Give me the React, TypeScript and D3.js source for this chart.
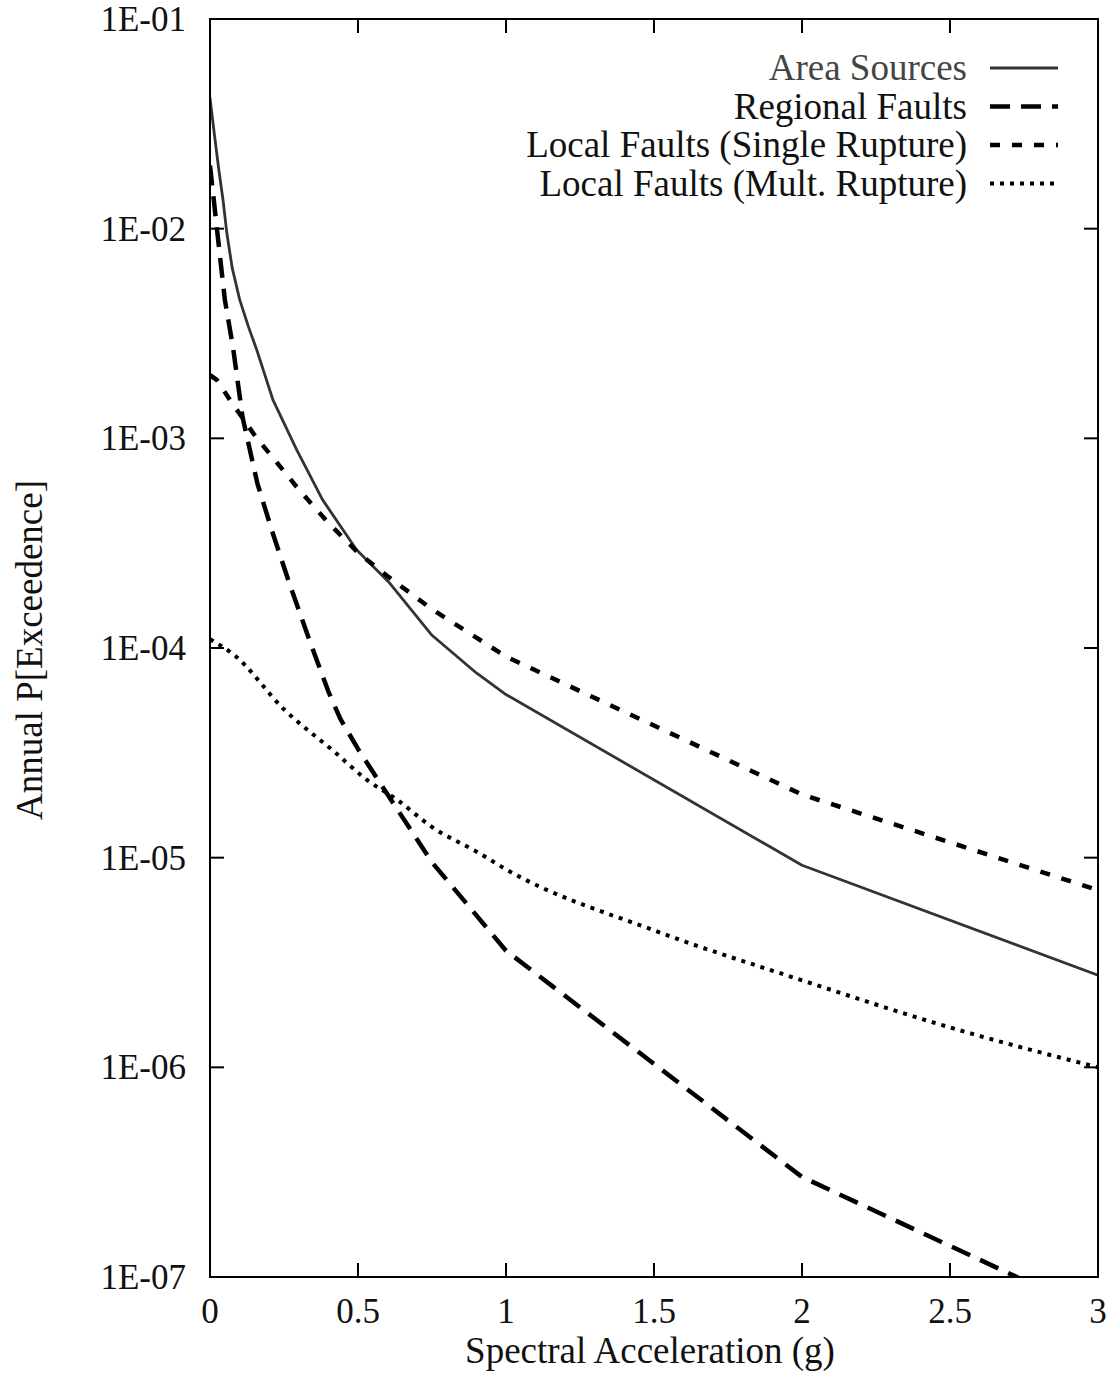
import React, { useEffect, useRef } from "react";
import * as d3 from "d3";

const xTicks = [0, 0.5, 1, 1.5, 2, 2.5, 3];
const yTicks = [1e-1, 1e-2, 1e-3, 1e-4, 1e-5, 1e-6, 1e-7];
const yTickLabels = ["1E-01", "1E-02", "1E-03", "1E-04", "1E-05", "1E-06", "1E-07"];

const areaX = [0, 0.015, 0.03, 0.044, 0.057, 0.075, 0.1, 0.13, 0.158, 0.213, 0.293, 0.38, 0.495, 0.607, 0.75, 0.9, 1.0, 2.0, 3.0];
const areaY = [4.2e-2, 2.8e-2, 1.9e-2, 1.37e-2, 9.5e-3, 6.5e-3, 4.6e-3, 3.4e-3, 2.64e-3, 1.52e-3, 8.8e-4, 5.1e-4, 2.94e-4, 2.04e-4, 1.15e-4, 7.6e-5, 6.0e-5, 9.2e-6, 2.75e-6];

const regionalX = [0, 0.035, 0.05, 0.078, 0.11, 0.16, 0.21, 0.27, 0.34, 0.4, 0.44, 0.5, 0.6, 0.75, 1.0, 2.0, 3.0];
const regionalY = [2.0e-2, 7.1e-3, 4.6e-3, 2.7e-3, 1.26e-3, 6.1e-4, 3.6e-4, 2.0e-4, 1.05e-4, 6.2e-5, 4.6e-5, 3.3e-5, 2.0e-5, 9.5e-6, 3.6e-6, 3.0e-7, 6.6e-8];

const singleX = [0, 0.023, 0.068, 0.1, 0.158, 0.2, 0.3, 0.4, 0.5, 0.6, 0.75, 1.0, 2.0, 3.0];
const singleY = [2.0e-3, 1.9e-3, 1.52e-3, 1.31e-3, 1.0e-3, 8.5e-4, 5.7e-4, 3.95e-4, 2.85e-4, 2.2e-4, 1.53e-4, 9.1e-5, 2.0e-5, 7.0e-6];

const multX = [0, 0.08, 0.25, 0.42, 0.53, 0.63, 0.75, 0.91, 1.0, 1.5, 2.0, 2.5, 3.0];
const multY = [1.1e-4, 9.3e-5, 5.1e-5, 3.2e-5, 2.35e-5, 1.9e-5, 1.4e-5, 1.05e-5, 8.8e-6, 4.5e-6, 2.6e-6, 1.55e-6, 1.0e-6];

const seriesNames = [
    "Area Sources",
    "Regional Faults",
    "Local Faults (Single Rupture)",
    "Local Faults (Mult. Rupture)",
];

export default function App() {
    const ref = useRef<SVGSVGElement>(null);

    useEffect(() => {
        const width = 1113;
        const height = 1377;
        const margin = { top: 19, right: 15, bottom: 100, left: 210 };
        const font = "'Liberation Serif', 'Times New Roman', serif";

        const svg = d3.select(ref.current);
        svg.selectAll("*").remove();

        const x = d3.scaleLinear().domain([0, 3]).range([margin.left, width - margin.right]);
        const y = d3.scaleLog().domain([1e-7, 1e-1]).range([height - margin.bottom, margin.top]);

        const series = [
            { name: seriesNames[0], xs: areaX, ys: areaY, dash: null, w: 2.8, color: "#333", curve: d3.curveLinear },
            { name: seriesNames[1], xs: regionalX, ys: regionalY, dash: "20,11", w: 4.5, color: "#000", curve: d3.curveLinear },
            { name: seriesNames[2], xs: singleX, ys: singleY, dash: "10,12", w: 4.5, color: "#000", curve: d3.curveLinear },
            { name: seriesNames[3], xs: multX, ys: multY, dash: "4,6", w: 4, color: "#000", curve: d3.curveMonotoneX },
        ];

        svg.append("defs")
            .append("clipPath")
            .attr("id", "plot-clip")
            .append("rect")
            .attr("x", margin.left)
            .attr("y", margin.top)
            .attr("width", width - margin.left - margin.right)
            .attr("height", height - margin.top - margin.bottom);

        const plot = svg.append("g").attr("clip-path", "url(#plot-clip)");
        series.forEach((s) => {
            const pts = s.xs.map((v, i) => [v, s.ys[i]] as [number, number]);
            const line = d3
                .line<[number, number]>()
                .x((d) => x(d[0]))
                .y((d) => y(d[1]))
                .curve(s.curve);
            plot.append("path")
                .datum(pts)
                .attr("d", line)
                .attr("fill", "none")
                .attr("stroke", s.color)
                .attr("stroke-width", s.w)
                .attr("stroke-linejoin", "round")
                .attr("stroke-dasharray", s.dash);
        });

        // frame
        const x0 = margin.left;
        const x1 = width - margin.right;
        const y0 = margin.top;
        const y1 = height - margin.bottom;
        svg.append("rect")
            .attr("x", x0)
            .attr("y", y0)
            .attr("width", x1 - x0)
            .attr("height", y1 - y0)
            .attr("fill", "none")
            .attr("stroke", "#000")
            .attr("stroke-width", 2);

        const tickLen = 14;
        const ticks = svg.append("g").attr("stroke", "#000").attr("stroke-width", 2);
        xTicks.forEach((t) => {
            ticks.append("line").attr("x1", x(t)).attr("x2", x(t)).attr("y1", y1).attr("y2", y1 - tickLen);
            ticks.append("line").attr("x1", x(t)).attr("x2", x(t)).attr("y1", y0).attr("y2", y0 + tickLen);
        });
        yTicks.forEach((t) => {
            ticks.append("line").attr("x1", x0).attr("x2", x0 + tickLen).attr("y1", y(t)).attr("y2", y(t));
            ticks.append("line").attr("x1", x1).attr("x2", x1 - tickLen).attr("y1", y(t)).attr("y2", y(t));
        });

        svg.append("g")
            .selectAll("text")
            .data(xTicks)
            .join("text")
            .attr("x", (d) => x(d))
            .attr("y", y1 + 46)
            .attr("text-anchor", "middle")
            .attr("font-family", font)
            .attr("font-size", 35)
            .attr("fill", "#111")
            .text((d) => `${d}`);

        svg.append("g")
            .selectAll("text")
            .data(yTicks)
            .join("text")
            .attr("x", x0 - 24)
            .attr("y", (d) => y(d) + 12)
            .attr("text-anchor", "end")
            .attr("font-family", font)
            .attr("font-size", 35)
            .attr("fill", "#111")
            .text((d, i) => yTickLabels[i]);

        svg.append("text")
            .attr("x", 650)
            .attr("y", y1 + 86)
            .attr("text-anchor", "middle")
            .attr("font-family", font)
            .attr("font-size", 37)
            .attr("fill", "#111")
            .text("Spectral Acceleration (g)");

        svg.append("text")
            .attr("transform", `translate(42,650) rotate(-90)`)
            .attr("text-anchor", "middle")
            .attr("font-family", font)
            .attr("font-size", 37)
            .attr("fill", "#111")
            .text("Annual P[Exceedence]");

        // legend
        const legend = svg.append("g");
        series.forEach((s, i) => {
            const ly = 68 + i * 38.5;
            legend.append("text")
                .attr("x", 967)
                .attr("y", ly + 12)
                .attr("text-anchor", "end")
                .attr("font-family", font)
                .attr("font-size", 37)
                .attr("fill", i === 0 ? "#444" : "#111")
                .text(s.name);
            legend.append("line")
                .attr("x1", 990)
                .attr("x2", 1058)
                .attr("y1", ly)
                .attr("y2", ly)
                .attr("stroke", s.color)
                .attr("stroke-width", s.w)
                .attr("stroke-dasharray", s.dash);
        });
    }, []);

    return (
        <svg
            ref={ref}
            width={1113}
            height={1377}
            style={{ position: "absolute", left: 0, top: 0, background: "#fff" }}
        />
    );
}
